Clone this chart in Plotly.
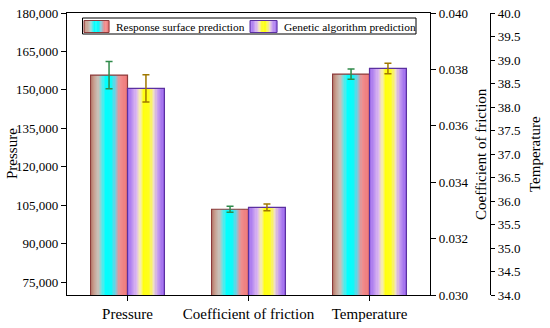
import plotly.graph_objects as go

# ---- data ----
categories = ["Pressure", "Coefficient of friction", "Temperature"]
series_names = ["Response surface prediction", "Genetic algorithm prediction"]
response_values = [155800, 0.03304, 38.70]
response_errors = [5300, 0.00011, 0.11]
genetic_values = [150600, 0.03311, 38.82]
genetic_errors = [5350, 0.00012, 0.11]
pressure_ticks = [75000, 90000, 105000, 120000, 135000, 150000, 165000, 180000]
friction_ticks = [0.030, 0.032, 0.034, 0.036, 0.038, 0.040]
temperature_ticks = [34.0, 34.5, 35.0, 35.5, 36.0, 36.5, 37.0, 37.5, 38.0, 38.5, 39.0, 39.5, 40.0]
axis_titles = ["Pressure", "Coefficient of friction", "Temperature"]

# ---- style ----
W, H = 550, 328
PL, PR, PT, PB = 67, 430, 13, 295
AX3 = 490
FONT = "Liberation Serif"
resp_stops = [(0, "#b8786a"), (0.1, "#c8a090"), (0.22, "#c8c0b8"), (0.33, "#60e8e8"),
              (0.42, "#00ffff"), (0.58, "#10f8f8"), (0.68, "#78cce0"), (0.8, "#f09090"), (1, "#f07878")]
gen_stops = [(0, "#9a66ee"), (0.12, "#b88cf0"), (0.25, "#dcb8f0"), (0.36, "#f8f0a8"),
             (0.45, "#ffff10"), (0.6, "#ffff20"), (0.72, "#f0e0c8"), (0.82, "#c8a0f0"), (1, "#9a66ee")]
resp_line, gen_line = "#8c3b3b", "#5b30a0"
resp_err, gen_err = "#2f8a4a", "#a07800"
BW = 0.305
N = 30


def hex2rgb(h):
    h = h.lstrip("#")
    return [int(h[i:i + 2], 16) for i in (0, 2, 4)]


def interp(stops, t):
    for (t0, c0), (t1, c1) in zip(stops[:-1], stops[1:]):
        if t0 <= t <= t1:
            a, b = hex2rgb(c0), hex2rgb(c1)
            f = (t - t0) / (t1 - t0) if t1 > t0 else 0
            r = [round(a[i] + (b[i] - a[i]) * f) for i in range(3)]
            return "rgb(%d,%d,%d)" % tuple(r)
    return stops[-1][1]


yaxes = ["y", "y2", "y3"]
fig = go.Figure()

series = [
    (series_names[0], response_values, response_errors, resp_stops, resp_line, resp_err, -BW),
    (series_names[1], genetic_values, genetic_errors, gen_stops, gen_line, gen_err, 0.0),
]

for name, vals, errs, stops, lc, ec, off0 in series:
    for i, cat in enumerate(categories):
        sw = BW / N
        offs = [off0 + k * sw for k in range(N)]
        cols = [interp(stops, (k + 0.5) / N) for k in range(N)]
        fig.add_trace(go.Bar(
            x=[cat] * N, y=[vals[i]] * N, offset=offs, width=[sw * 1.2] * N,
            marker=dict(color=cols, line=dict(width=0)), yaxis=yaxes[i],
            showlegend=False, hoverinfo="skip"))
        fig.add_trace(go.Bar(
            x=[cat], y=[vals[i]], offset=off0, width=BW, name=name,
            marker=dict(color="rgba(0,0,0,0)", line=dict(color=lc, width=1.2)),
            error_y=dict(type="data", array=[errs[i]], color=ec, thickness=1.5, width=3.5),
            yaxis=yaxes[i], showlegend=False))

tickfont = dict(family=FONT, size=13, color="black")
common = dict(showgrid=False, zeroline=False, showline=True, linecolor="black", linewidth=1.3,
              ticks="outside", ticklen=5, tickwidth=1.2, tickcolor="black", tickfont=tickfont,
              automargin=False)

ydom = [(H - PB) / H, (H - PT) / H]
fig.update_layout(
    width=W, height=H, margin=dict(l=0, r=0, t=0, b=0),
    paper_bgcolor="white", plot_bgcolor="white", barmode="overlay", showlegend=False,
    xaxis=dict(domain=[PL / W, PR / W], type="category", categoryorder="array",
               categoryarray=categories, showgrid=False, showline=True, mirror=True,
               linecolor="black", linewidth=1.3, ticks="outside", ticklen=5, tickwidth=1.2,
               tickcolor="black", tickfont=dict(family=FONT, size=15, color="black"),
               automargin=False),
    yaxis=dict(domain=ydom, range=[70000, 180000], tickvals=pressure_ticks,
               tickformat=",d", **common),
    yaxis2=dict(domain=ydom, range=[0.030, 0.040], tickvals=friction_ticks, tickformat=".3f",
                overlaying="y", side="right", anchor="x", **common),
    yaxis3=dict(domain=ydom, range=[34, 40], tickvals=temperature_ticks, tickformat=".1f",
                overlaying="y", side="right", anchor="free", position=AX3 / W,
                **dict(common, ticklen=4)),
    font=dict(family=FONT, color="black"),
)

# axis titles
for txt, px in zip(axis_titles, [12, 481, 535]):
    fig.add_annotation(text=txt, x=px / W, y=(H - (PT + PB) / 2) / H, xref="paper", yref="paper",
                       textangle=-90, showarrow=False, font=dict(family=FONT, size=15, color="black"),
                       xanchor="center", yanchor="middle")

# legend (drawn)
def py(v):
    return (H - v) / H

fig.add_shape(type="rect", xref="paper", yref="paper", x0=82.5 / W, x1=416 / W,
              y0=py(34), y1=py(18), line=dict(color="black", width=1), fillcolor="white")
for (x0, x1, stops, lc, tx, name) in [(84, 109, resp_stops, resp_line, 114, series_names[0]),
                                      (250, 277, gen_stops, gen_line, 282, series_names[1])]:
    n = 20
    sw = (x1 - x0) / n
    for k in range(n):
        fig.add_shape(type="rect", xref="paper", yref="paper",
                      x0=(x0 + k * sw) / W, x1=(x0 + (k + 1) * sw + 0.3) / W,
                      y0=py(32.5), y1=py(20.5), line=dict(width=0),
                      fillcolor=interp(stops, (k + 0.5) / n))
    fig.add_shape(type="rect", xref="paper", yref="paper", x0=x0 / W, x1=x1 / W,
                  y0=py(32.5), y1=py(20.5), line=dict(color=lc, width=1))
    fig.add_annotation(text=name, x=tx / W, y=py(27), xref="paper", yref="paper",
                       showarrow=False, xanchor="left", yanchor="middle",
                       font=dict(family=FONT, size=11.4, color="black"))

fig.write_html("out.html", config={"displayModeBar": False},
               post_script="document.body.style.margin='0px';")
